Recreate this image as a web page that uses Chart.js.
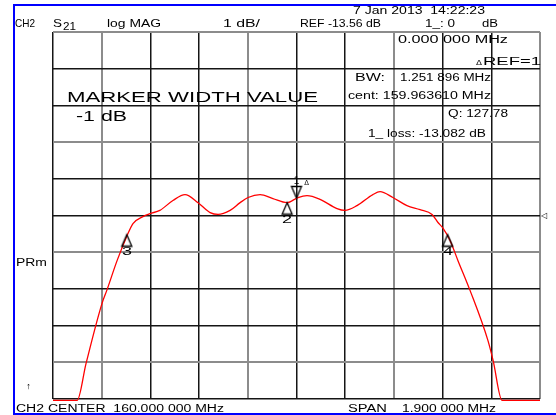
<!DOCTYPE html>
<html><head><meta charset="utf-8">
<script src="https://cdn.jsdelivr.net/npm/chart.js@4/dist/chart.umd.min.js"></script>
<style>
html,body{margin:0;padding:0;background:#fff;}
#wrap{position:relative;width:556px;height:415px;overflow:hidden;background:#fff;}
#c{position:absolute;left:0;top:0;}
.t{position:absolute;white-space:pre;font-family:"Liberation Sans",Arial,sans-serif;color:#000;transform-origin:0 0;line-height:1;}
#frame{position:absolute;left:13px;top:4px;width:560px;height:407px;border-left:2px solid #0000ff;border-top:2px solid #0000ff;border-bottom:2px solid #0000ff;}
</style></head>
<body><div id="wrap"><canvas id="c" width="556" height="415"></canvas><div id="frame"></div></div>
<script>
// ---- data ----
const centerMHz = 160.0;
const spanMHz = 1.9;
const refDb = -13.56;
const dbPerDiv = 1;
const divisions = 10;

const freqMHz = [159.050, 159.144, 159.179, 159.241, 159.261, 159.300, 159.339, 159.362, 159.401, 159.428,
  159.467, 159.518, 159.565, 159.616, 159.663, 159.694, 159.741, 159.780, 159.811, 159.858,
  159.908, 159.963, 160.006, 160.041, 160.092, 160.158, 160.189, 160.236, 160.298, 160.326,
  160.376, 160.431, 160.482, 160.529, 160.552, 160.572, 160.599, 160.630, 160.677, 160.747,
  160.767, 160.802, 160.950];
const s21dB = [-18.60, -18.60, -17.59, -15.96, -15.58, -14.79, -14.11, -13.78, -13.59, -13.51,
  -13.42, -13.15, -12.99, -13.21, -13.48, -13.53, -13.42, -13.21, -13.07, -12.99,
  -13.10, -13.21, -13.07, -13.02, -13.12, -13.37, -13.42, -13.29, -12.99, -12.91,
  -13.07, -13.29, -13.40, -13.53, -13.75, -13.91, -14.24, -14.79, -15.60, -16.97,
  -17.51, -18.60, -18.60];

const markerNames = ['1', '2', '3', '4'];
const markerFreqMHz = [160.000, 159.963610, 159.337662, 160.589558];
const markerDb = [-13.082, -13.21, -14.082, -14.082];
const markerPointsDown = [true, false, false, false];

// ---- derived scale limits ----
const xMin = centerMHz - spanMHz / 2, xMax = centerMHz + spanMHz / 2;
const yMin = refDb - dbPerDiv * divisions / 2, yMax = refDb + dbPerDiv * divisions / 2;
const xGrid = Array.from({length: divisions + 1}, (_, i) => xMin + i * spanMHz / divisions);
const yGrid = Array.from({length: divisions + 1}, (_, i) => yMin + i * dbPerDiv);

// marker glyphs (triangle outlines, apex at the marker point)
function triImg(down) {
  const c = document.createElement('canvas'); c.width = 14; c.height = 26;
  const g = c.getContext('2d');
  g.strokeStyle = '#000'; g.lineWidth = 1.3; g.beginPath();
  if (down) { g.moveTo(2, 1.5); g.lineTo(12, 1.5); g.lineTo(7, 13); }
  else { g.moveTo(7, 13); g.lineTo(2, 24.5); g.lineTo(12, 24.5); }
  g.closePath(); g.stroke();
  return c;
}
const imgDown = triImg(true), imgUp = triImg(false);

const gridColor = c => (c.index % 3 === 1 ? '#8c8c8c' : '#151515');
const gridWidth = c => (c.index % 3 === 1 ? 2 : 1.5);

const chart = new Chart(document.getElementById('c'), {
  type: 'line',
  data: {
    datasets: [
      {
        data: markerFreqMHz.map((f, i) => ({x: f, y: markerDb[i]})),
        showLine: false,
        pointStyle: ctx => (markerPointsDown[ctx.dataIndex] ? imgDown : imgUp),
        pointRadius: 7,
        order: 0
      },
      {
        data: freqMHz.map((f, i) => ({x: f, y: s21dB[i]})),
        borderColor: '#ff0000',
        borderWidth: 1.3,
        pointRadius: 0,
        cubicInterpolationMode: 'monotone',
        clip: false,
        order: 1
      }
    ]
  },
  options: {
    responsive: false,
    animation: false,
    devicePixelRatio: 1,
    layout: {padding: {left: 53, top: 32, right: 16, bottom: 16}},
    plugins: {legend: {display: false}, tooltip: {enabled: false}},
    scales: {
      x: {
        type: 'linear', min: xMin, max: xMax,
        afterBuildTicks: s => { s.ticks = xGrid.map(v => ({value: v})); },
        ticks: {display: false},
        grid: {drawTicks: false, tickLength: 0, color: gridColor, lineWidth: gridWidth},
        border: {display: false}
      },
      y: {
        type: 'linear', min: yMin, max: yMax,
        afterBuildTicks: s => { s.ticks = yGrid.map(v => ({value: v})); },
        ticks: {display: false},
        grid: {drawTicks: false, tickLength: 0, color: gridColor, lineWidth: gridWidth},
        border: {display: false}
      }
    }
  }
});

// ---- text ----
const wrap = document.getElementById('wrap');
function put(txt, left, base, width, fs, center) {
  const s = document.createElement('span');
  s.className = 't'; s.textContent = txt; s.style.fontSize = fs + 'px';
  s.style.top = (base - 0.8465 * fs) + 'px';
  wrap.appendChild(s);
  const w = s.getBoundingClientRect().width;
  const k = width ? width / w : 1;
  s.style.left = (center ? left - w * k / 2 : left) + 'px';
  if (width) s.style.transform = 'scaleX(' + k + ')';
}
const labels = [
  ['CH2', 15, 27, 20, 10.5],
  ['S', 53, 27, 9, 11],
  ['21', 63, 30, 13, 10],
  ['log MAG', 107, 27, 54, 10],
  ['1 dB/', 223, 27, 37, 10],
  ['7 Jan 2013  14:22:23', 353, 14, 132, 10],
  ['REF -13.56 dB', 300, 27, 81, 10],
  ['1_: 0', 425, 27, 30, 10],
  ['dB', 482, 27, 16, 10],
  ['0.000 000 MHz', 398, 43, 110, 10],
  ['\u0394', 476, 65, 6, 7],
  ['REF=1', 483, 65, 58, 10],
  ['BW:', 355, 81, 30, 10],
  ['1.251 896 MHz', 400, 81, 91, 10],
  ['cent: 159.963610 MHz', 348, 99, 143, 10],
  ['Q: 127.78', 448, 117, 60, 10],
  ['1_ loss: -13.082 dB', 368, 137, 118, 10],
  ['MARKER WIDTH VALUE', 67, 102, 251, 15],
  ['-1 dB', 76, 121, 51, 15],
  ['PRm', 16, 266, 31, 10],
  ['\u2191', 26, 390, 5, 9],
  ['CH2 CENTER  160.000 000 MHz', 16, 412, 208, 10],
  ['SPAN', 348, 412, 39, 10],
  ['1.900 000 MHz', 402, 412, 94, 10],
  ['\u25C1', 541, 219, 6, 8]
];
labels.forEach(l => put(l[0], l[1], l[2], l[3], l[4]));

// marker numbers, placed from the chart's scales
markerNames.forEach((n, i) => {
  const px = chart.scales.x.getPixelForValue(markerFreqMHz[i]);
  const py = chart.scales.y.getPixelForValue(markerDb[i]);
  if (markerPointsDown[i]) {
    put(n, px, py - 13, 0, 10, true);
    put('\u0394', px + 10, py - 13, 0, 7, true);
  } else {
    put(n, px, py + 21, 10, 10, true);
  }
});
</script>
</body></html>
